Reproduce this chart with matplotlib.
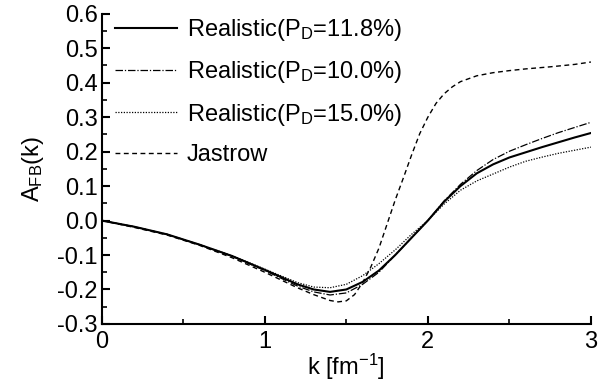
import matplotlib
matplotlib.use("Agg")
import matplotlib.pyplot as plt
from matplotlib.ticker import MultipleLocator

plt.rcParams['font.family'] = ['Liberation Sans', 'DejaVu Sans']
plt.rcParams['mathtext.fontset'] = 'custom'
plt.rcParams['mathtext.rm'] = 'Liberation Sans'
plt.rcParams['mathtext.it'] = 'Liberation Sans'

# values
k_real = [0.0, 0.2, 0.4, 0.6, 0.8, 1.0, 1.2, 1.3, 1.4, 1.5, 1.6, 1.7, 1.8,
          1.9, 2.0, 2.1, 2.2, 2.3, 2.4, 2.5, 2.6, 2.7, 2.8, 2.9, 3.0]
a_118 = [0.0, -0.018, -0.040, -0.070, -0.103, -0.143, -0.185, -0.200, -0.207,
         -0.200, -0.178, -0.145, -0.100, -0.050, 0.000, 0.055, 0.100, 0.137,
         0.163, 0.183, 0.198, 0.213, 0.227, 0.241, 0.254]
a_100 = [0.0, -0.018, -0.040, -0.070, -0.104, -0.145, -0.190, -0.207, -0.216,
         -0.210, -0.185, -0.150, -0.100, -0.050, 0.000, 0.057, 0.105, 0.145,
         0.177, 0.201, 0.220, 0.238, 0.255, 0.270, 0.285]
a_150 = [0.0, -0.018, -0.040, -0.070, -0.102, -0.141, -0.180, -0.193, -0.195,
         -0.185, -0.160, -0.125, -0.085, -0.040, 0.000, 0.048, 0.088, 0.115,
         0.135, 0.155, 0.172, 0.184, 0.195, 0.204, 0.213]

k_jas = [0.0, 0.2, 0.4, 0.6, 0.8, 1.0, 1.2, 1.3, 1.4, 1.45, 1.5, 1.55, 1.6,
         1.65, 1.7, 1.75, 1.8, 1.85, 1.9, 1.95, 2.0, 2.05, 2.1, 2.15, 2.2,
         2.3, 2.4, 2.5, 2.6, 2.75, 2.9, 3.0]
a_jas = [0.0, -0.020, -0.042, -0.072, -0.108, -0.150, -0.195, -0.215, -0.232,
         -0.236, -0.233, -0.215, -0.180, -0.135, -0.080, -0.010, 0.060, 0.124,
         0.190, 0.252, 0.300, 0.340, 0.368, 0.388, 0.403, 0.420, 0.429, 0.435,
         0.440, 0.446, 0.453, 0.460]

labels = ["Realistic(P$_\\mathregular{D}$=11.8%)",
          "Realistic(P$_\\mathregular{D}$=10.0%)",
          "Realistic(P$_\\mathregular{D}$=15.0%)",
          "Jastrow"]

fig = plt.figure(figsize=(6.13, 3.82), dpi=100)
ax = fig.add_axes([0.166, 0.152, 0.798, 0.812])

ax.plot(k_real, a_118, color='black', lw=1.5, label=labels[0])
ax.plot(k_real, a_100, color='black', lw=0.9, ls=(0, (6, 1.5, 1, 1.5)), label=labels[1])
ax.plot(k_real, a_150, color='black', lw=0.9, ls=(0, (1, 1.2)), label=labels[2])
ax.plot(k_jas, a_jas, color='black', lw=1.0, ls=(0, (3.5, 2.5)), label=labels[3])

ax.set_xlim(0, 3)
ax.set_ylim(-0.3, 0.6)
ax.xaxis.set_major_locator(MultipleLocator(1))
ax.xaxis.set_minor_locator(MultipleLocator(0.5))
ax.yaxis.set_major_locator(MultipleLocator(0.1))
ax.yaxis.set_minor_locator(MultipleLocator(0.05))
ax.set_yticks(ax.get_yticks())
ax.set_yticklabels([f"{v:.1f}" for v in ax.get_yticks()])
ax.set_ylim(-0.3, 0.6)

for s in ['top', 'right']:
    ax.spines[s].set_visible(False)
for s in ['left', 'bottom']:
    ax.spines[s].set_linewidth(1.5)
ax.tick_params(which='major', direction='in', length=6, width=1.5, labelsize=17, pad=3)
ax.tick_params(axis='x', which='major', pad=5)
ax.tick_params(which='minor', direction='in', length=3.5, width=1.2)

ax.set_xlabel("k [fm$^\\mathregular{-1}$]", fontsize=17, labelpad=-1)
ax.set_ylabel("A$_\\mathregular{FB}$(k)", fontsize=17, labelpad=8)

ax.legend(loc='upper left', bbox_to_anchor=(0.007, 1.02), frameon=False,
          fontsize=17, handlelength=2.65, handletextpad=0.42, labelspacing=0.69,
          borderaxespad=0.0)

fig.savefig("out.png", dpi=100)
